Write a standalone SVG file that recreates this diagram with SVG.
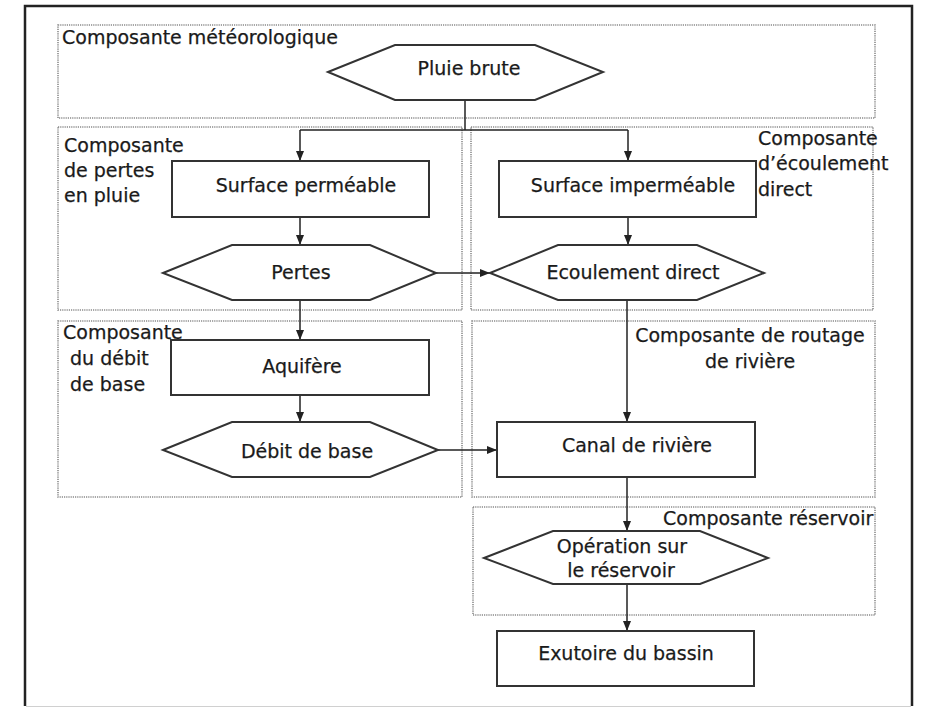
<svg xmlns="http://www.w3.org/2000/svg" width="925" height="709" viewBox="0 0 925 709">
<defs>
<marker id="arr" markerWidth="10" markerHeight="8" refX="10" refY="4" orient="auto" markerUnits="userSpaceOnUse">
<path d="M0,0 L10,4 L0,8 z" fill="#222"/>
</marker>
<style>
.zone{fill:none;stroke:#8a8a8a;stroke-width:1.6;stroke-dasharray:1.2 1}
.node{fill:#fff;stroke:#333;stroke-width:2}
.t{font-family:"DejaVu Sans",Verdana,sans-serif;font-size:19px;fill:#1a1a1a;stroke:#1a1a1a;stroke-width:0.25}
.c{text-anchor:middle}
.con{fill:none;stroke:#222;stroke-width:1.5}
</style>
</defs>
<rect x="0" y="0" width="925" height="709" fill="#fff"/>
<g id="frame">
<path d="M25,706 V6 H912 V706" fill="none" stroke="#222" stroke-width="2.5"/>
<line x1="26" y1="706.5" x2="911" y2="706.5" stroke="#d0d0d0" stroke-width="1"/>
</g>
<g id="zones">
<g id="zone-meteo"><rect class="zone" x="58" y="25" width="817" height="93"/><text class="t" x="62" y="44">Composante météorologique</text></g>
<g id="zone-pertes"><rect class="zone" x="58" y="127" width="404" height="183"/><text class="t" x="64" y="152">Composante</text><text class="t" x="64" y="177">de pertes</text><text class="t" x="64" y="202">en pluie</text></g>
<g id="zone-ecoul"><rect class="zone" x="471" y="127" width="402" height="183"/><text class="t" x="758" y="145">Composante</text><text class="t" x="758" y="170">d’écoulement</text><text class="t" x="758" y="196">direct</text></g>
<g id="zone-base"><rect class="zone" x="58" y="321" width="404" height="176"/><text class="t" x="63" y="339">Composante</text><text class="t" x="70" y="365">du débit</text><text class="t" x="70" y="391">de base</text></g>
<g id="zone-routage"><rect class="zone" x="472" y="321" width="403" height="176"/><text class="t c" x="750" y="342">Composante de routage</text><text class="t c" x="750" y="368">de rivière</text></g>
<g id="zone-reservoir"><rect class="zone" x="473" y="507" width="402" height="108"/><text class="t" x="663" y="525">Composante réservoir</text></g>
</g>
<g id="connectors">
<path class="con" d="M465,100 V130"/>
<path class="con" d="M300,130 H628"/>
<path class="con" d="M300,130 V161" marker-end="url(#arr)"/>
<path class="con" d="M628,130 V161" marker-end="url(#arr)"/>
<path class="con" d="M300,217 V245" marker-end="url(#arr)"/>
<path class="con" d="M628,217 V245" marker-end="url(#arr)"/>
<path class="con" d="M436,273 H490" marker-end="url(#arr)"/>
<path class="con" d="M300,300 V340" marker-end="url(#arr)"/>
<path class="con" d="M300,395 V422" marker-end="url(#arr)"/>
<path class="con" d="M438,450 H497" marker-end="url(#arr)"/>
<path class="con" d="M627,300 V422" marker-end="url(#arr)"/>
<path class="con" d="M627,477 V531" marker-end="url(#arr)"/>
<path class="con" d="M627,584 V631" marker-end="url(#arr)"/>
</g>
<g id="pluie-brute"><polygon class="node" points="328,72 395,45 535,45 603,72 535,100 395,100"/><text class="t c" x="469" y="75">Pluie brute</text></g>
<g id="surface-permeable"><rect class="node" x="172" y="161" width="257" height="56"/><text class="t c" x="306" y="192">Surface perméable</text></g>
<g id="surface-impermeable"><rect class="node" x="499" y="161" width="257" height="56"/><text class="t c" x="633" y="192">Surface imperméable</text></g>
<g id="pertes"><polygon class="node" points="163,273 232,245 370,245 436,273 370,300 232,300"/><text class="t c" x="301" y="279">Pertes</text></g>
<g id="ecoulement-direct"><polygon class="node" points="490,273 558,245 697,245 764,273 697,300 558,300"/><text class="t c" x="633" y="279">Ecoulement direct</text></g>
<g id="aquifere"><rect class="node" x="171" y="340" width="258" height="55"/><text class="t c" x="302" y="373">Aquifère</text></g>
<g id="debit-base"><polygon class="node" points="163,450 232,422 370,422 438,450 370,477 232,477"/><text class="t c" x="307" y="458">Débit de base</text></g>
<g id="canal-riviere"><rect class="node" x="497" y="422" width="258" height="55"/><text class="t c" x="637" y="452">Canal de rivière</text></g>
<g id="operation-reservoir"><polygon class="node" points="484,558 553,531 700,531 768,558 700,584 553,584"/><text class="t c" x="622" y="553">Opération sur</text><text class="t c" x="621" y="577">le réservoir</text></g>
<g id="exutoire"><rect class="node" x="497" y="631" width="257" height="55"/><text class="t c" x="626" y="660">Exutoire du bassin</text></g>
</svg>
